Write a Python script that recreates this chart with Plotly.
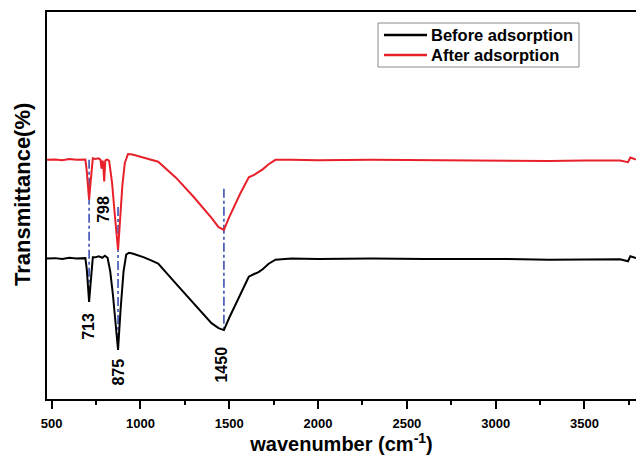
import plotly.graph_objects as go

# Before adsorption (black)
wn_before = [474, 520, 560, 600, 640, 680, 690, 698, 705, 711, 717, 724, 732, 745, 765, 785, 800,
             815, 830, 845, 860, 874, 888, 905, 920, 935, 955, 985, 1020, 1060, 1100, 1200, 1300,
             1400, 1440, 1470, 1500, 1560, 1610, 1640, 1665, 1690, 1720, 1760, 1850, 2000, 2300,
             2600, 3000, 3300, 3500, 3700, 3745, 3758, 3790]
tr_before = [36.3, 36.4, 36.2, 36.5, 36.3, 36.4, 36.4, 33.5, 28.5, 25.1, 28.5, 33.5, 36.6, 36.6, 36.9,
             36.5, 37.0, 36.5, 33.0, 27.0, 19.0, 12.7, 23.0, 33.0, 37.3, 37.8, 37.6, 37.2, 36.6, 35.8,
             35.0, 29.8, 24.6, 19.6, 18.3, 17.8, 21.0, 26.6, 31.6, 32.3, 32.8, 33.6, 34.9, 36.0, 36.3,
             36.2, 36.3, 36.2, 36.2, 36.0, 36.1, 36.1, 35.6, 36.9, 36.4]

# After adsorption (red)
wn_after = [474, 520, 560, 600, 640, 680, 690, 698, 705, 711, 717, 724, 732, 745, 765, 775, 781,
            786, 790, 796, 802, 808, 816, 824, 840, 855, 868, 874, 885, 898, 912, 930, 955, 985,
            1020, 1060, 1100, 1200, 1300, 1400, 1440, 1470, 1500, 1560, 1610, 1640, 1665, 1690,
            1720, 1760, 1850, 2000, 2300, 2600, 3000, 3300, 3500, 3700, 3745, 3758, 3790]
tr_after = [61.8, 61.9, 61.7, 62.0, 61.8, 61.9, 61.9, 58.8, 54.8, 51.5, 54.8, 58.8, 62.2, 62.0, 62.2,
            61.8, 59.5, 61.6, 61.0, 56.2, 61.6, 61.8, 61.8, 61.5, 56.0, 48.0, 41.0, 38.5, 46.0, 55.0,
            61.0, 63.3, 63.2, 62.8, 62.2, 61.8, 61.3, 57.2, 52.2, 46.8, 44.4, 43.7, 47.0, 52.9, 57.3,
            57.9, 58.6, 59.4, 60.6, 61.8, 61.8, 61.7, 61.8, 61.7, 61.7, 61.5, 61.6, 61.6, 61.2, 62.4,
            61.9]

series_names = ["Before adsorption", "After adsorption"]
series_colors = ["black", "#e8202a"]

# Peak guide lines (x position, top, bottom)
peak_wn = [711, 874, 1470]
peak_top = [61.8, 49.6, 54.3]
peak_bot = [25.1, 12.7, 17.8]

# Peak labels
label_text = ["713", "798", "875", "1450"]
label_x = [706, 794, 875, 1457]
label_y = [18.7, 49.1, 6.9, 8.8]

x_ticks = [500, 1000, 1500, 2000, 2500, 3000, 3500]

FONT = "Liberation Sans, Arial, sans-serif"

# plot-area geometry (pixels) used to place the hand-built legend in paper coordinates
L, T, W, H = 47, 12, 589, 387


def px_x(p):
    return (p - L) / W


def px_y(p):
    return (T + H - p) / H


fig = go.Figure()
for px, top, bot in zip(peak_wn, peak_top, peak_bot):
    fig.add_trace(go.Scatter(x=[px, px], y=[top, bot], mode="lines",
                             line=dict(color="#3a50b4", width=1.6, dash="dashdot"),
                             showlegend=False, hoverinfo="skip"))

for xs, ys, nm, col in zip([wn_before, wn_after], [tr_before, tr_after], series_names, series_colors):
    fig.add_trace(go.Scatter(x=xs, y=ys, mode="lines", name=nm,
                             line=dict(color=col, width=2), showlegend=False))

for t, lx, ly in zip(label_text, label_x, label_y):
    fig.add_annotation(x=lx, y=ly, text=t, showarrow=False, textangle=-90,
                       font=dict(family=FONT, size=16, color="black", weight="bold"))

# y-axis title as annotation to match its vertical placement
fig.add_annotation(xref="paper", yref="paper", x=0, y=0.527, xanchor="center", yanchor="middle",
                   xshift=-25, text="Transmittance(%)", textangle=-90, showarrow=False,
                   font=dict(family=FONT, size=22, color="black", weight="bold"))

# legend box
fig.add_shape(type="rect", xref="paper", yref="paper",
              x0=px_x(378), x1=px_x(579), y0=px_y(67), y1=px_y(23),
              line=dict(color="#8a8a8a", width=1), fillcolor="white", layer="above")
for i, (nm, col) in enumerate(zip(series_names, series_colors)):
    yc = 35 + 20 * i
    fig.add_shape(type="line", xref="paper", yref="paper",
                  x0=px_x(384), x1=px_x(427), y0=px_y(yc), y1=px_y(yc),
                  line=dict(color=col, width=2.5), layer="above")
    fig.add_annotation(xref="paper", yref="paper", x=px_x(429), y=px_y(yc),
                       xanchor="left", yanchor="middle", text=nm, showarrow=False,
                       font=dict(family=FONT, size=16.5, color="black", weight="bold"))

fig.update_layout(
    width=636, height=455,
    margin=dict(l=L, r=0, t=T, b=56),
    paper_bgcolor="white", plot_bgcolor="white",
    font=dict(family=FONT, color="black"),
    showlegend=False,
    xaxis=dict(range=[474, 3790], showgrid=False, zeroline=False,
               showline=True, linecolor="black", linewidth=2, mirror=True,
               ticks="outside", ticklen=8, tickwidth=2, tickcolor="black",
               tickvals=x_ticks, ticktext=[str(v) for v in x_ticks],
               ticklabelstandoff=3,
               tickfont=dict(family=FONT, size=13, color="black", weight="bold"),
               minor=dict(ticks="outside", ticklen=4, tickwidth=2, tickcolor="black", dtick=250),
               title=dict(text="wavenumber (cm<sup>-1</sup>)", standoff=6,
                          font=dict(family=FONT, size=20, color="black", weight="bold"))),
    yaxis=dict(range=[0, 100], showgrid=False, zeroline=False,
               showline=True, linecolor="black", linewidth=2,
               ticks="", showticklabels=False),
)

fig.write_html("out.html")
